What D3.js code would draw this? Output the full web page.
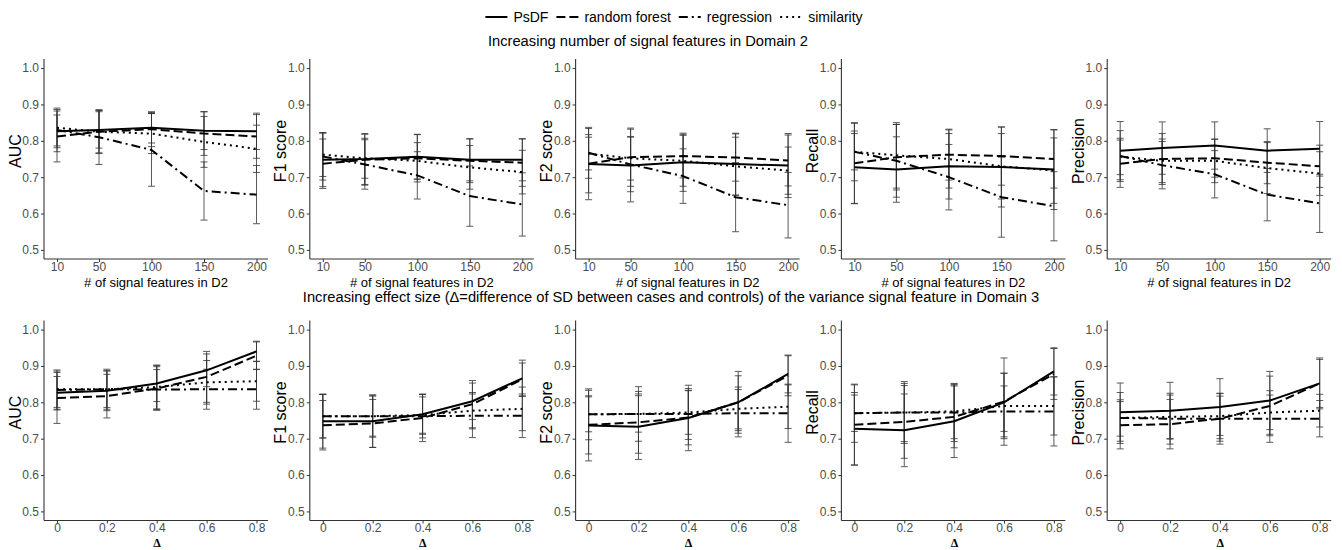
<!DOCTYPE html>
<html><head><meta charset="utf-8">
<script src="https://cdn.jsdelivr.net/npm/d3@7"></script>
<style>
body{margin:0;background:#fff;}
svg{display:block;font-family:"Liberation Sans",Arial,Helvetica,sans-serif;}
</style></head><body>
<svg id="chart" width="1342" height="550"></svg>
<script>
// ---------- data ----------
const methods = ["PsDF", "random forest", "regression", "similarity"];
const metrics = ["AUC", "F1 score", "F2 score", "Recall", "Precision"];
const xTop = [10, 50, 100, 150, 200];
const xTopLabels = ["10", "50", "100", "150", "200"];
const xBottom = [0, 0.2, 0.4, 0.6, 0.8];
const xBottomLabels = ["0", "0.2", "0.4", "0.6", "0.8"];
const yTicks = [0.5, 0.6, 0.7, 0.8, 0.9, 1.0];
const yTickLabels = ["0.5", "0.6", "0.7", "0.8", "0.9", "1.0"];
const topTitle = "Increasing number of signal features in Domain 2";
const bottomTitle = "Increasing effect size (\u0394=difference of SD between cases and controls) of the variance signal feature in Domain 3";
const topXTitle = "# of signal features in D2";
const bottomXTitle = "\u0394";

// rows: PsDF, random forest, regression, similarity
const topAUC = [[0.826,0.830,0.836,0.828,0.826],[0.812,0.825,0.832,0.820,0.812],[0.830,0.810,0.775,0.662,0.652],[0.836,0.825,0.820,0.797,0.778]];
const topAUCsd = [[0.045,0.050,0.042,0.052,0.050],[0.070,0.058,0.048,0.060,0.060],[0.060,0.075,0.100,0.080,0.080],[0.050,0.060,0.055,0.070,0.065]];
const topF1 = [[0.748,0.750,0.756,0.748,0.748],[0.737,0.748,0.752,0.745,0.740],[0.757,0.735,0.705,0.648,0.625],[0.762,0.752,0.745,0.727,0.714]];
const topF1sd = [[0.074,0.070,0.062,0.058,0.058],[0.068,0.070,0.065,0.060,0.065],[0.065,0.068,0.065,0.083,0.087],[0.060,0.055,0.050,0.060,0.060]];
const topF2 = [[0.736,0.732,0.741,0.736,0.732],[0.737,0.755,0.758,0.754,0.746],[0.767,0.735,0.703,0.645,0.623],[0.765,0.752,0.745,0.730,0.718]];
const topF2sd = [[0.098,0.100,0.080,0.085,0.088],[0.080,0.080,0.060,0.065,0.070],[0.070,0.075,0.075,0.095,0.090],[0.045,0.060,0.070,0.080,0.065]];
const topRecall = [[0.727,0.721,0.730,0.728,0.721],[0.738,0.755,0.762,0.758,0.750],[0.770,0.745,0.700,0.645,0.620],[0.770,0.760,0.750,0.730,0.718]];
const topRecallsd = [[0.100,0.090,0.090,0.110,0.110],[0.110,0.090,0.070,0.080,0.080],[0.080,0.100,0.090,0.110,0.095],[0.050,0.090,0.080,0.090,0.090]];
const topPrecision = [[0.773,0.780,0.787,0.773,0.778],[0.737,0.750,0.752,0.740,0.730],[0.758,0.733,0.708,0.652,0.628],[0.757,0.745,0.745,0.725,0.710]];
const topPrecisionsd = [[0.080,0.072,0.065,0.060,0.075],[0.065,0.070,0.052,0.058,0.058],[0.070,0.065,0.065,0.072,0.080],[0.050,0.060,0.060,0.070,0.060]];

const botAUC = [[0.826,0.832,0.852,0.888,0.940],[0.812,0.817,0.838,0.870,0.928],[0.834,0.836,0.835,0.836,0.836],[0.836,0.836,0.842,0.855,0.858]];
const botAUCsd = [[0.045,0.055,0.050,0.045,0.028],[0.070,0.060,0.060,0.070,0.038],[0.055,0.055,0.055,0.055,0.055],[0.050,0.050,0.060,0.060,0.055]];
const botF1 = [[0.748,0.748,0.767,0.803,0.866],[0.737,0.742,0.757,0.795,0.863],[0.762,0.762,0.762,0.763,0.763],[0.762,0.762,0.765,0.777,0.782]];
const botF1sd = [[0.074,0.072,0.055,0.050,0.050],[0.068,0.066,0.065,0.065,0.045],[0.060,0.058,0.060,0.060,0.060],[0.060,0.055,0.050,0.050,0.060]];
const botF2 = [[0.736,0.733,0.757,0.800,0.878],[0.738,0.745,0.758,0.800,0.873],[0.767,0.768,0.768,0.770,0.770],[0.767,0.768,0.772,0.782,0.788]];
const botF2sd = [[0.097,0.090,0.090,0.073,0.052],[0.080,0.085,0.075,0.085,0.055],[0.070,0.075,0.070,0.065,0.080],[0.048,0.050,0.060,0.060,0.060]];
const botRecall = [[0.727,0.723,0.748,0.800,0.885],[0.738,0.746,0.760,0.802,0.878],[0.770,0.772,0.772,0.775,0.775],[0.770,0.772,0.775,0.790,0.790]];
const botRecallsd = [[0.100,0.100,0.100,0.080,0.065],[0.110,0.100,0.085,0.120,0.070],[0.080,0.085,0.080,0.070,0.095],[0.050,0.080,0.075,0.090,0.080]];
const botPrecision = [[0.773,0.777,0.787,0.805,0.852],[0.737,0.740,0.755,0.790,0.852],[0.757,0.755,0.755,0.755,0.755],[0.757,0.760,0.762,0.772,0.777]];
const botPrecisionsd = [[0.080,0.078,0.078,0.080,0.070],[0.065,0.068,0.062,0.082,0.066],[0.070,0.070,0.070,0.065,0.050],[0.050,0.060,0.062,0.060,0.045]];

const topMeans = [topAUC, topF1, topF2, topRecall, topPrecision];
const topSDs = [topAUCsd, topF1sd, topF2sd, topRecallsd, topPrecisionsd];
const botMeans = [botAUC, botF1, botF2, botRecall, botPrecision];
const botSDs = [botAUCsd, botF1sd, botF2sd, botRecallsd, botPrecisionsd];

// ---------- style / layout ----------
const dashes = ["none", "9,4", "9,4,2,4", "2,4"];
const panelX0 = 44, panelStep = 265.8, panelW = 224, panelH = 200;
const rowTops = [59, 320.5];
const tickColor = "#4d4d4d";

const svg = d3.select("#chart");

function drawPanel(g, row, idx) {
  const left = panelX0 + idx * panelStep;
  const top = rowTops[row];
  const xs = row === 0 ? xTop : xBottom;
  const xl = row === 0 ? xTopLabels : xBottomLabels;
  const means = row === 0 ? topMeans[idx] : botMeans[idx];
  const sds = row === 0 ? topSDs[idx] : botSDs[idx];

  const x = d3.scaleLinear().domain([xs[0], xs[xs.length - 1]]).range([left + 13, left + 212.5]);
  const y = d3.scaleLinear().domain([0.475, 1.025]).range([top + panelH, top]);

  const yAxis = d3.axisLeft(y).tickValues(yTicks).tickFormat((d, i) => yTickLabels[i]).tickSize(3).tickPadding(2);
  const xAxis = d3.axisBottom(x).tickValues(xs).tickFormat((d, i) => xl[i]).tickSize(3).tickPadding(0);
  const ga = g.append("g").attr("transform", `translate(${left},0)`).call(yAxis);
  const gx = g.append("g").attr("transform", `translate(0,${top + panelH})`).call(xAxis);
  [ga, gx].forEach(a => {
    a.select(".domain").remove();
    a.selectAll(".tick line").attr("stroke", "#333").attr("stroke-width", 1);
    a.selectAll(".tick text").attr("fill", tickColor).style("font-size", "12px").style("font-family", '"Liberation Sans",Arial,sans-serif');
  });
  g.append("line").attr("x1", left).attr("x2", left).attr("y1", top).attr("y2", top + panelH)
    .attr("stroke", "#333").attr("stroke-width", 1.1);
  g.append("line").attr("x1", left).attr("x2", left + panelW).attr("y1", top + panelH).attr("y2", top + panelH)
    .attr("stroke", "#333").attr("stroke-width", 1.1);

  // error bars
  const cap = 3.5;
  means.forEach((m, mi) => {
    m.forEach((v, j) => {
      const sd = sds[mi][j];
      const cx = x(xs[j]);
      const eb = g.append("g").attr("stroke", "#333").attr("stroke-width", 1).attr("opacity", 0.8);
      eb.append("line").attr("x1", cx).attr("x2", cx).attr("y1", y(v - sd)).attr("y2", y(v + sd));
      eb.append("line").attr("x1", cx - cap).attr("x2", cx + cap).attr("y1", y(v - sd)).attr("y2", y(v - sd));
      eb.append("line").attr("x1", cx - cap).attr("x2", cx + cap).attr("y1", y(v + sd)).attr("y2", y(v + sd));
    });
  });

  // lines
  const line = d3.line().x((d, j) => x(xs[j])).y(d => y(d));
  means.forEach((m, mi) => {
    g.append("path").attr("d", line(m)).attr("fill", "none").attr("stroke", "#000")
      .attr("stroke-width", 2).attr("stroke-dasharray", dashes[mi]);
  });

  // axis titles
  const cy = top + 92;
  g.append("text").attr("transform", `translate(${left - 29},${cy}) rotate(-90)`)
    .attr("text-anchor", "middle").attr("dominant-baseline", "central")
    .style("font-size", "16px").attr("fill", "#000").text(metrics[idx]);
  if (row === 0) {
    g.append("text").attr("x", left + panelW / 2).attr("y", 287)
      .attr("text-anchor", "middle")
      .style("font-size", "13px").attr("fill", "#000").text(topXTitle);
  } else {
    g.append("text").attr("x", left + panelW / 2 + 1).attr("y", 547)
      .attr("text-anchor", "middle")
      .style("font-size", "12px").style("font-weight", "bold").style("font-family", '"Liberation Serif",serif')
      .attr("fill", "#000").text(bottomXTitle);
  }
}

for (let r = 0; r < 2; r++) {
  for (let i = 0; i < 5; i++) drawPanel(svg.append("g"), r, i);
}

// titles
svg.append("text").attr("x", 648).attr("y", 46).attr("text-anchor", "middle")
  .style("font-size", "14.7px").text(topTitle);
svg.append("text").attr("x", 671).attr("y", 302).attr("text-anchor", "middle")
  .style("font-size", "14.7px").text(bottomTitle);

// legend
const lg = svg.append("g");
let cursor = 0;
const keyLen = 22, keyGap = 6, itemGap = 8;
methods.forEach((m, i) => {
  lg.append("line").attr("x1", cursor).attr("x2", cursor + keyLen).attr("y1", 0).attr("y2", 0)
    .attr("stroke", "#000").attr("stroke-width", 2).attr("stroke-dasharray", dashes[i]);
  cursor += keyLen + keyGap;
  const t = lg.append("text").attr("x", cursor).attr("y", 5).style("font-size", "14px").text(m);
  cursor += t.node().getComputedTextLength() + itemGap;
});
const totalW = cursor - itemGap;
lg.attr("transform", `translate(${674 - totalW / 2},17)`);
</script>
</body></html>
